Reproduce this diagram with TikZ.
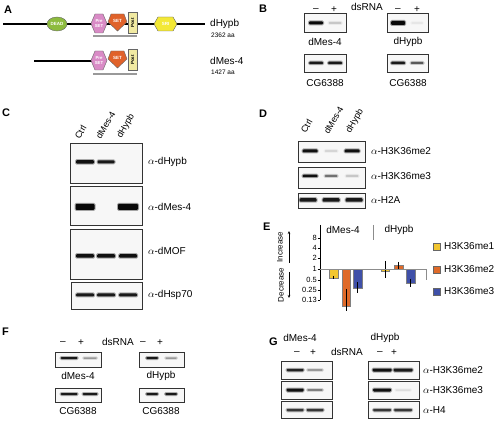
\documentclass[tikz,border=0pt]{standalone}
\usepackage{fontspec}
\setmainfont{Liberation Sans}
\usetikzlibrary{arrows.meta}
\definecolor{deadgreen}{HTML}{8DBB3E}
\definecolor{presetpink}{HTML}{D98BC6}
\definecolor{setorange}{HTML}{E0622A}
\definecolor{postyellow}{HTML}{F1EAA2}
\definecolor{sriyellow}{HTML}{F3E836}
\definecolor{baryellow}{HTML}{F2C630}
\definecolor{barorange}{HTML}{DF6A29}
\definecolor{barblue}{HTML}{3F50A8}
\newcommand\gband[5]{%
  \fill[black,opacity=#5*0.35,rounded corners=1.5pt] ({#1-#3/2-1},{#2-#4/2-1}) rectangle ({#1+#3/2+1},{#2+#4/2+1});
  \fill[black,opacity=#5,rounded corners=1pt] ({#1-#3/2},{#2-#4/2}) rectangle ({#1+#3/2},{#2+#4/2});}
\begin{document}
\begin{tikzpicture}[x=1pt,y=-1pt,
  every node/.style={inner sep=0pt},
  txt/.style={font=\fontsize{10}{11}\selectfont},
  small/.style={font=\fontsize{6.5}{7}\selectfont},
  tiny/.style={font=\fontsize{4.5}{5}\selectfont\bfseries},
  panel/.style={font=\fontsize{11}{12}\selectfont\bfseries},
  gel/.style={draw=black!80,line width=0.7pt,fill=black!3},
  dom/.style={draw=black!60,line width=0.4pt},
  prot/.style={line width=1.3pt},
  gbar/.style={line width=2.2pt,black!40},
  lane/.style={font=\fontsize{9}{10}\selectfont,rotate=60,anchor=south west},
  tick/.style={font=\fontsize{7.5}{8}\selectfont,anchor=east},
  ebar/.style={line width=0.5pt,black}]
\useasboundingbox (0,0) rectangle (495,427);

% ---------------- A ----------------
\node[panel,anchor=west] (la) at (4,10) {A};
\draw[prot] (3,24) -- (205,24);
\draw[dom,fill=deadgreen] (57,24) ellipse (10 and 7);
\node[tiny,white] (dead) at (57,24) {DEAD};
\draw[dom,fill=presetpink] (91,23.5) -- (95,14) -- (103,14) -- (107,23.5) -- (103,33) -- (95,33) -- cycle;
\node[tiny,white,align=center,font=\fontsize{4.3}{4.6}\selectfont\bfseries] (pre1) at (99,23.5) {Pre\\SET};
\draw[dom,fill=setorange] (111,14) -- (124,14) -- (127,22) -- (117.5,31) -- (108,22) -- cycle;
\node[tiny,white] (set1) at (117.5,21) {SET};
\draw[dom,fill=postyellow] (128,12.5) rectangle (137,33.5);
\node[tiny,rotate=90] (post1) at (132.5,23) {Post};
\draw[gbar] (93,36) -- (137,36);
\draw[dom,fill=sriyellow] (154,24) -- (158,17) -- (173,17) -- (177,24) -- (173,31) -- (158,31) -- cycle;
\node[tiny,white] (sri) at (165.5,24) {SRI};
\node[txt,anchor=west] (hypb) at (210,24) {dHypb};
\node[small,anchor=west] (hypbaa) at (211,35) {2362 aa};

\draw[prot] (34,61) -- (92,61);
\draw[dom,fill=presetpink] (91,60.5) -- (95,51) -- (103,51) -- (107,60.5) -- (103,70) -- (95,70) -- cycle;
\node[tiny,white,align=center,font=\fontsize{4.3}{4.6}\selectfont\bfseries] (pre2) at (99,60.5) {Pre\\SET};
\draw[dom,fill=setorange] (111,51) -- (124,51) -- (127,59) -- (117.5,68) -- (108,59) -- cycle;
\node[tiny,white] (set2) at (117.5,58) {SET};
\draw[dom,fill=postyellow] (128,49.5) rectangle (137,70.5);
\node[tiny,rotate=90] (post2) at (132.5,60) {Post};
\draw[gbar] (93,74) -- (137,74);
\node[txt,anchor=west] (mes) at (210,61) {dMes-4};
\node[small,anchor=west] (mesaa) at (211,72) {1427 aa};

% ---------------- B ----------------
\node[panel,anchor=west] (lb) at (259,9) {B};
\node[txt] (bm1) at (316,10) {–};
\node[txt] (bp1) at (334,10) {+};
\node[txt] (bds) at (367,7) {dsRNA};
\node[txt] (bm2) at (398,10) {–};
\node[txt] (bp2) at (417,10) {+};
\draw[gel] (304,13) rectangle (346,32);
\gband{316}{23}{14}{3}{0.95}\gband{335}{23}{13}{2}{0.15}
\draw[gel] (387,13) rectangle (428,32);
\gband{398}{23}{14}{4}{0.95}\gband{417}{23}{12}{2}{0.05}
\node[txt] (bl1) at (325,42) {dMes-4};
\node[txt] (bl2) at (408,42) {dHypb};
\draw[gel] (304,54) rectangle (346,72);
\gband{316}{63}{14}{2.5}{0.85}\gband{335}{63}{14}{2.5}{0.85}
\draw[gel] (387,54) rectangle (428,72);
\gband{398}{63}{14}{2.5}{0.85}\gband{417}{63}{13}{2}{0.55}
\node[txt] (bl3) at (325,83) {CG6388};
\node[txt] (bl4) at (408,83) {CG6388};

% ---------------- C ----------------
\node[panel,anchor=west] (lc) at (2,113) {C};
\node[lane] (cc1) at (80,140) {Ctrl};
\node[lane] (cc2) at (101,140) {dMes-4};
\node[lane] (cc3) at (123,140) {dHypb};
\draw[gel] (70,143) rectangle (142,183);
\gband{85}{162}{18}{3.5}{0.9}\gband{106}{162}{17}{3}{0.85}
\draw[gel] (70,186) rectangle (142,225);
\gband{85}{207}{19}{6}{0.95}\gband{128}{207}{20}{6}{0.95}
\draw[gel] (70,229) rectangle (142,279);
\gband{85}{256}{18}{3.5}{0.9}\gband{106}{256}{18}{3.5}{0.9}\gband{128}{256}{18}{3.5}{0.9}
\draw[gel] (71,282) rectangle (142,309);
\gband{85}{295}{18}{3}{0.85}\gband{106}{295}{18}{3}{0.85}\gband{128}{295}{18}{3}{0.85}
\node[txt,anchor=west] (ca1) at (148,162) {$\alpha$-dHypb};
\node[txt,anchor=west] (ca2) at (148,207) {$\alpha$-dMes-4};
\node[txt,anchor=west] (ca3) at (148,251) {$\alpha$-dMOF};
\node[txt,anchor=west] (ca4) at (148,295) {$\alpha$-dHsp70};

% ---------------- D ----------------
\node[panel,anchor=west] (ld) at (259,114) {D};
\node[lane] (dc1) at (306,134) {Ctrl};
\node[lane] (dc2) at (329,135) {dMes-4};
\node[lane] (dc3) at (352,135) {dHypb};
\draw[gel] (298,141) rectangle (365,162);
\gband{310}{151}{15}{3}{0.9}\gband{331}{151}{13}{2}{0.1}\gband{352}{151}{15}{3}{0.9}
\draw[gel] (298,167) rectangle (365,188);
\gband{310}{176}{15}{2.5}{0.9}\gband{331}{176}{13}{2}{0.45}\gband{352}{176}{13}{2}{0.15}
\draw[gel] (298,193) rectangle (365,208);
\gband{308}{200}{17}{3.5}{0.85}\gband{331}{200}{17}{3.5}{0.85}\gband{354}{200}{17}{3.5}{0.85}
\node[txt,anchor=west] (da1) at (371,151) {$\alpha$-H3K36me2};
\node[txt,anchor=west] (da2) at (371,176) {$\alpha$-H3K36me3};
\node[txt,anchor=west] (da3) at (371,200) {$\alpha$-H2A};

% ---------------- E ----------------
\node[panel,anchor=west] (le) at (263,227) {E};
\draw[line width=0.5pt] (320,225) -- (320,300);
\draw[line width=0.6pt,black!45] (373,225) -- (373,240);
\node[txt] (em) at (343,230) {dMes-4};
\node[txt] (eh) at (399,230) {dHypb};
\foreach \v/\yy in {8/238,4/248,2/258,1/269,0.5/280,0.25/290,0.13/300}{
  \draw[line width=0.4pt] (317.5,\yy) -- (320,\yy);
  \node[tick] at (317,\yy) {\v};}
\node[font=\fontsize{8}{9}\selectfont,rotate=90] (einc) at (280,247) {Increase};
\node[font=\fontsize{8}{9}\selectfont,rotate=90] (edec) at (281,285) {Decrease};
\coordinate (au0) at (289,263); \coordinate (au1) at (289,231);
\coordinate (ad0) at (289,272); \coordinate (ad1) at (289,298);
\draw[line width=0.5pt,-{Stealth[length=3pt,width=2.5pt]}] (au0) -- (au1);
\draw[line width=0.5pt,-{Stealth[length=3pt,width=2.5pt]}] (ad0) -- (ad1);
% bars
\draw[fill=baryellow,draw=black!50,line width=0.3pt] (329,269) rectangle (338,278);
\draw[ebar] (333.5,276) -- (333.5,279);
\draw[fill=barorange,draw=black!50,line width=0.3pt] (342,269) rectangle (350,306);
\draw[ebar] (346,289) -- (346,311);
\draw[fill=barblue,draw=black!50,line width=0.3pt] (353,269) rectangle (362,288);
\draw[ebar] (357.5,282) -- (357.5,293);
\draw[fill=baryellow,draw=black!50,line width=0.3pt] (381,269) rectangle (389,271);
\draw[ebar] (385,261) -- (385,278);
\draw[fill=barorange,draw=black!50,line width=0.3pt] (394,265) rectangle (403,269);
\draw[ebar] (398.5,262) -- (398.5,270);
\draw[fill=barblue,draw=black!50,line width=0.3pt] (406,269) rectangle (415,283);
\draw[ebar] (410.5,279) -- (410.5,287);
\draw[line width=0.7pt,black!45] (320,269) -- (426,269) -- (426,280);
% legend
\draw[fill=baryellow,draw=black!60,line width=0.4pt] (433,243) rectangle (440,250);
\node[txt,anchor=west] (eg1) at (444,246.5) {H3K36me1};
\draw[fill=barorange,draw=black!60,line width=0.4pt] (433,266) rectangle (440,273);
\node[txt,anchor=west] (eg2) at (444,269.5) {H3K36me2};
\draw[fill=barblue,draw=black!60,line width=0.4pt] (433,288) rectangle (440,295);
\node[txt,anchor=west] (eg3) at (444,291.5) {H3K36me3};

% ---------------- F ----------------
\node[panel,anchor=west] (lf) at (2,332) {F};
\node[txt] (fm1) at (63,343) {–};
\node[txt] (fp1) at (81,343) {+};
\node[txt] (fds) at (118,342) {dsRNA};
\node[txt] (fm2) at (143,343) {–};
\node[txt] (fp2) at (160,343) {+};
\draw[gel] (55,352) rectangle (101,367);
\gband{69}{358}{17}{2}{0.85}\gband{90}{358}{14}{1.5}{0.3}
\draw[gel] (139,352) rectangle (184,367);
\gband{152}{358}{12}{2}{0.85}\gband{171}{358}{12}{1.5}{0.3}
\node[txt] (fl1) at (78,376) {dMes-4};
\node[txt] (fl2) at (161,376) {dHypb};
\draw[gel] (55,388) rectangle (101,402);
\gband{69}{394}{17}{2}{0.85}\gband{90}{394}{15}{2}{0.85}
\draw[gel] (139,388) rectangle (184,402);
\gband{152}{394}{12}{2}{0.85}\gband{171}{394}{12}{2}{0.85}
\node[txt] (fl3) at (78,411) {CG6388};
\node[txt] (fl4) at (161,411) {CG6388};

% ---------------- G ----------------
\node[panel,anchor=west] (lg) at (269,342) {G};
\node[txt] (gt1) at (300,338) {dMes-4};
\node[txt] (gt2) at (385,338) {dHypb};
\node[txt] (gm1) at (297,353) {–};
\node[txt] (gp1) at (313,353) {+};
\node[txt] (gds) at (347,352) {dsRNA};
\node[txt] (gm2) at (380,353) {–};
\node[txt] (gp2) at (394,353) {+};
\draw[gel] (281,361) rectangle (332,379);
\gband{295}{370}{17}{2.5}{0.8}\gband{315}{370}{16}{1.8}{0.3}
\draw[gel] (281,381) rectangle (332,399);
\gband{295}{390}{17}{3}{0.9}\gband{315}{390}{16}{1.8}{0.4}
\draw[gel] (281,401) rectangle (332,418);
\gband{295}{410}{17}{2.5}{0.7}\gband{315}{410}{17}{2.5}{0.7}
\draw[gel] (368,361) rectangle (419,379);
\gband{382}{370}{19}{3}{0.9}\gband{403}{370}{19}{3}{0.85}
\draw[gel] (368,381) rectangle (419,399);
\gband{382}{390}{18}{3}{0.9}\gband{403}{390}{16}{1.5}{0.08}
\draw[gel] (368,401) rectangle (419,418);
\gband{382}{410}{18}{2.5}{0.7}\gband{403}{410}{18}{2.5}{0.7}
\node[txt,anchor=west] (ga1) at (423,370) {$\alpha$-H3K36me2};
\node[txt,anchor=west] (ga2) at (423,390) {$\alpha$-H3K36me3};
\node[txt,anchor=west] (ga3) at (423,410) {$\alpha$-H4};
\end{tikzpicture}
\end{document}
